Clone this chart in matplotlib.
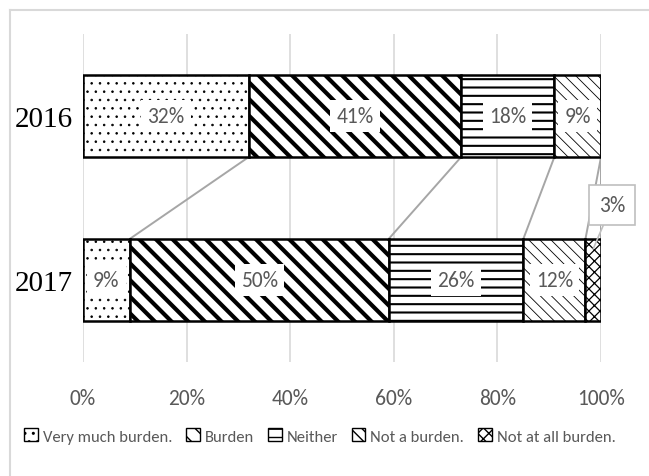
import matplotlib
matplotlib.use("Agg")
import matplotlib.pyplot as plt
from matplotlib import font_manager
from matplotlib.patches import Patch
from matplotlib.lines import Line2D
import numpy as np

years = ["2016", "2017"]
series = ["Very much burden.", "Burden", "Neither", "Not a burden.", "Not at all burden."]
values = {
    "Very much burden.": [32, 9],
    "Burden": [41, 50],
    "Neither": [18, 26],
    "Not a burden.": [9, 12],
    "Not at all burden.": [0, 3],
}
x_ticks = [0, 20, 40, 60, 80, 100]
x_tick_labels = ["0%", "20%", "40%", "60%", "80%", "100%"]

names = {f.name for f in font_manager.fontManager.ttflist}
sans = [f for f in ["Carlito", "Lato", "DejaVu Sans"] if f in names][0]
serif = "Liberation Serif"

gray_text = "#595959"
grid_gray = "#d9d9d9"

styles = {
    "Very much burden.": dict(hatch="..", hlw=0.6),
    "Burden": dict(hatch="\\\\", hlw=3.0),
    "Neither": dict(hatch="--", hlw=1.5),
    "Not a burden.": dict(hatch="\\\\\\", hlw=0.6),
    "Not at all burden.": dict(hatch="xxx", hlw=0.9),
}

fig = plt.figure(figsize=(6.49, 4.77), dpi=100)
ax = fig.add_axes([83 / 649, 1 - 363 / 477, 518 / 649, 328 / 477])

ypos = np.arange(len(years))
bar_h = 0.5
left = np.zeros(len(years))
bounds = []
for name in series:
    vals = np.array(values[name], dtype=float)
    st = styles[name]
    with plt.rc_context({"hatch.linewidth": st["hlw"], "hatch.color": "black"}):
        bars = ax.barh(ypos, vals, left=left, height=bar_h, color="white",
                       edgecolor="black", linewidth=1.8, hatch=st["hatch"], zorder=3)
        if hasattr(bars[0], "set_hatch_linewidth"):
            for b in bars:
                b.set_hatch_linewidth(st["hlw"])
    for i, v in enumerate(vals):
        if v <= 0:
            continue
        cx = left[i] + v / 2
        if v >= 5:
            ax.text(cx, ypos[i], f"{v:.0f}%", ha="center", va="center", fontsize=15.5,
                    family=sans, color=gray_text, zorder=6,
                    bbox=dict(boxstyle="square,pad=0.28", fc="white", ec="none"))
        else:
            ax.annotate(f"{v:.0f}%", xy=(cx, ypos[i] - 0.19), xytext=(cx + 3.6, ypos[i] - 0.457),
                        ha="center", va="center", fontsize=15.5, family=sans, color=gray_text,
                        zorder=7,
                        bbox=dict(boxstyle="square,pad=0.45", fc="white", ec="#bfbfbf", lw=1.2),
                        arrowprops=dict(arrowstyle="-", color="#bfbfbf", lw=1.2,
                                        shrinkA=0, shrinkB=0))
    left = left + vals
    bounds.append(left.copy())

# series lines joining segment edges between the two bars
for b in bounds:
    ax.plot([b[0], b[1]], [ypos[0] + bar_h / 2, ypos[1] - bar_h / 2],
            color="#a6a6a6", lw=1.4, zorder=2, solid_capstyle="butt")

ax.set_xlim(0, 100)
ax.set_ylim(1.5, -0.5)
ax.set_xticks(x_ticks)
ax.set_xticklabels(x_tick_labels, family=sans, fontsize=15.5, color=gray_text)
ax.set_yticks(ypos)
ax.set_yticklabels(years, family=serif, fontsize=21, color="black")
ax.tick_params(axis="x", length=0, pad=19)
ax.tick_params(axis="y", length=0, pad=7)
for s in ax.spines.values():
    s.set_visible(False)
ax.xaxis.grid(True, color=grid_gray, lw=1.2, zorder=0)
ax.set_axisbelow(True)

handles = []
for name in series:
    st = styles[name]
    with plt.rc_context({"hatch.linewidth": min(st["hlw"], 1.0)}):
        handles.append(Patch(facecolor="white", edgecolor="black", hatch=st["hatch"],
                             linewidth=1.0, label=name))
leg = fig.legend(handles=handles, loc="center", bbox_to_anchor=(320 / 649, 1 - 437 / 477),
                 ncol=5, frameon=False, handlelength=0.8, handleheight=0.8,
                 handletextpad=0.3, columnspacing=0.85,
                 prop={"family": sans, "size": 12})
for t in leg.get_texts():
    t.set_color(gray_text)

# outer chart frame
fig.add_artist(Line2D([10 / 649, 10 / 649], [0, 1 - 11 / 477], color=grid_gray, lw=1.5,
                      transform=fig.transFigure))
fig.add_artist(Line2D([10 / 649, 1], [1 - 11 / 477, 1 - 11 / 477], color=grid_gray, lw=1.5,
                      transform=fig.transFigure))

fig.savefig("out.png", dpi=100)
